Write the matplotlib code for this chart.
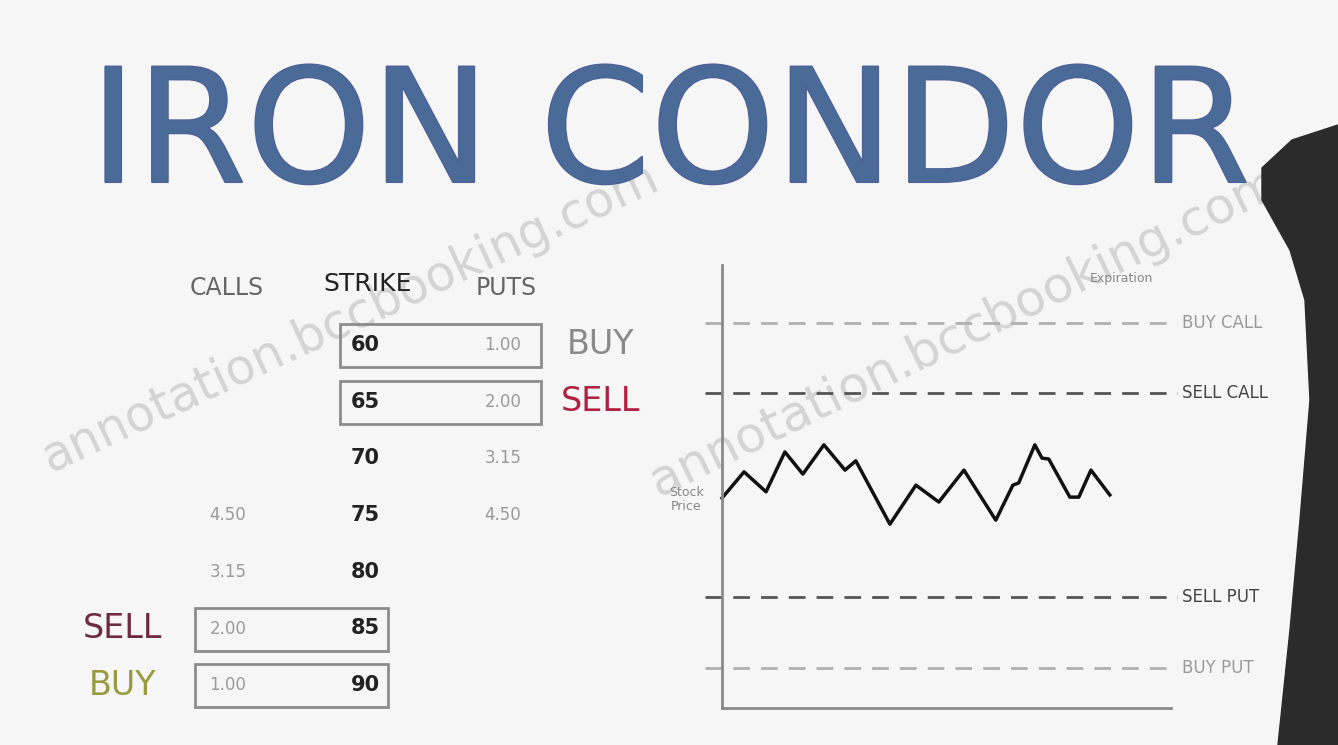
"""Iron condor explainer: strike table on the left, price path vs. strike levels on the right."""

import matplotlib.pyplot as plt
import matplotlib.patheffects as pe
from matplotlib.patches import Rectangle, Polygon

# --- table data ---
strikes = [60, 65, 70, 75, 80, 85, 90]
call_prices = ["", "", "", "4.50", "3.15", "2.00", "1.00"]
put_prices = ["1.00", "2.00", "3.15", "4.50", "", "", ""]
put_actions = ["BUY", "SELL", "", "", "", "", ""]
call_actions = ["", "", "", "", "", "SELL", "BUY"]

# --- chart data ---
level_labels = ["BUY CALL", "SELL CALL", "SELL PUT", "BUY PUT"]
level_values = [87, 71, 25, 9]
price_t = [0, 4.9, 9.8, 14.0, 18.0, 22.7, 27.4, 29.8, 37.4, 43.2, 48.3,
           53.9, 61.0, 64.8, 66.1, 69.7, 71.3, 72.8, 77.5, 79.5, 82.2, 86.4]
price_y = [47.4, 53.3, 48.8, 57.8, 52.8, 59.4, 53.7, 55.8, 41.5, 50.3, 46.5,
           53.7, 42.4, 50.3, 50.8, 59.4, 56.4, 56.2, 47.6, 47.6, 53.7, 48.1]

BG = "#f6f6f6"
W, H = 1338, 745

fig = plt.figure(figsize=(W / 100, H / 100), dpi=100, facecolor=BG)

# full-figure overlay in pixel units for title / table layout
ov = fig.add_axes([0, 0, 1, 1])
ov.set_xlim(0, W)
ov.set_ylim(H, 0)
ov.axis("off")
ov.set_facecolor(BG)

# watermarks
ov.text(350, 318, "annotation.bccbooking.com", rotation=25, fontsize=35,
        color="#d4d4d4", ha="center", va="center", zorder=0)
ov.text(965, 332, "annotation.bccbooking.com", rotation=26, fontsize=36,
        color="#d4d4d4", ha="center", va="center", zorder=0)

# title
ov.text(670, 138, "IRON CONDOR", fontsize=114, color="#4a6a98",
        ha="center", va="center",
        path_effects=[pe.withStroke(linewidth=1.5, foreground="#4d5f96")])

# table headers
ov.text(227, 288, "CALLS", fontsize=17, color="#666666", ha="center", va="center")
ov.text(368, 284, "STRIKE", fontsize=18, color="#222222", ha="center", va="center")
ov.text(506, 288, "PUTS", fontsize=17, color="#666666", ha="center", va="center")

row0, step = 345, 56.7
for i, k in enumerate(strikes):
    y = row0 + i * step
    ov.text(365, y, str(k), fontsize=15, fontweight="bold", color="#222222",
            ha="center", va="center")
    if call_prices[i]:
        ov.text(228, y, call_prices[i], fontsize=12, color="#9a9a9a",
                ha="center", va="center")
    if put_prices[i]:
        ov.text(503, y, put_prices[i], fontsize=12, color="#9a9a9a",
                ha="center", va="center")
    if put_actions[i]:
        ov.add_patch(Rectangle((340, y - 21), 201, 43, fill=False,
                               edgecolor="#8c8c8c", lw=2))
        col = "#8a8a8a" if put_actions[i] == "BUY" else "#b02040"
        ov.text(600, y, put_actions[i], fontsize=24, color=col,
                ha="center", va="center")
    if call_actions[i]:
        ov.add_patch(Rectangle((195, y - 21), 193, 43, fill=False,
                               edgecolor="#8c8c8c", lw=2))
        col = "#9a9a40" if call_actions[i] == "BUY" else "#6e2a40"
        ov.text(122, y, call_actions[i], fontsize=24, color=col,
                ha="center", va="center")

# --- price chart ---
ax = fig.add_axes([705 / W, 1 - 708 / H, (1178 - 705) / W, (708 - 265) / H])
ax.patch.set_alpha(0)
ax.set_xlim(-3.8, 101.6)
ax.set_ylim(0, 100)
for s in ["top", "right"]:
    ax.spines[s].set_visible(False)
ax.spines["left"].set_position(("data", 0))
ax.spines["left"].set_color("#8a8a8a")
ax.spines["left"].set_linewidth(2)
ax.spines["bottom"].set_bounds(0, 100)
ax.spines["bottom"].set_color("#8a8a8a")
ax.spines["bottom"].set_linewidth(2)
ax.set_xticks([])
ax.set_yticks([])

for lab, v in zip(level_labels, level_values):
    buy = lab.startswith("BUY")
    ax.axhline(v, color="#b0b0b0" if buy else "#555555", lw=2,
               dashes=(6, 4))
    ax.text(102.6, v, lab, fontsize=12, color="#9a9a9a" if buy else "#444444",
            ha="left", va="center", clip_on=False)

ax.plot(price_t, price_y, color="#111111", lw=2.5, solid_joinstyle="round")
ax.text(-8, 47, "Stock\nPrice", fontsize=9, color="#888888",
        ha="center", va="center", linespacing=1.1)
ax.text(89, 97, "Expiration", fontsize=9, color="#888888",
        ha="center", va="center", clip_on=False)

# dark photo edge on the right
ov.add_patch(Polygon([(1338, 125), (1292, 140), (1262, 168), (1262, 200),
                      (1290, 250), (1305, 300), (1310, 400), (1300, 520),
                      (1290, 630), (1278, 745), (1338, 745)],
                     closed=True, color="#2b2b2b", zorder=5))

fig.savefig("out.png", dpi=100, facecolor=BG)
